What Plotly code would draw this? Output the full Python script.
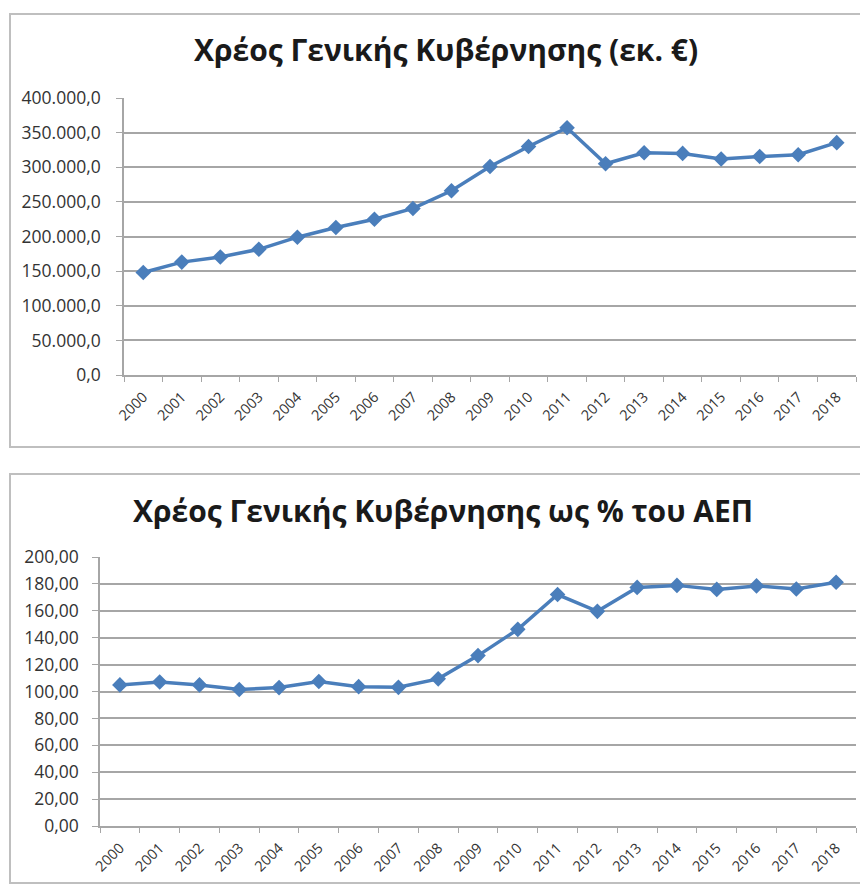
import plotly.graph_objects as go

years = [str(y) for y in range(2000, 2019)]
debt_eur = [148000, 163000, 170500, 181500, 199000, 213000, 225000, 240500, 266000,
            301000, 330000, 357000, 305000, 321000, 320000, 312000, 315500, 318000, 335500]
debt_pct = [104.9, 107.1, 104.9, 101.5, 102.9, 107.4, 103.6, 103.1, 109.4,
            126.7, 146.2, 172.1, 159.6, 177.4, 178.9, 175.9, 178.5, 176.2, 181.2]
title1 = "Χρέος Γενικής Κυβέρνησης (εκ. €)"
title2 = "Χρέος Γενικής Κυβέρνησης ως % του ΑΕΠ"

# the page adds an 8px body margin; size the figure so the page fits the 868x892 window
OX, OY = 8, 8
W, H = 868 - 2 * OX, 892 - 2 * OY
BLUE = "#4a7ebb"
GRID = "#a6a6a6"
FONT = "Open Sans"


def px_x(x):
    return (x - OX) / W


def px_y(y):
    return 1 - (y - OY) / H


fig = go.Figure()
fig.add_trace(go.Scatter(x=years, y=debt_eur, mode="lines+markers", xaxis="x", yaxis="y",
                         line=dict(color=BLUE, width=3.5),
                         marker=dict(symbol="diamond", size=12, color=BLUE)))
fig.add_trace(go.Scatter(x=years, y=debt_pct, mode="lines+markers", xaxis="x2", yaxis="y2",
                         line=dict(color=BLUE, width=3.5),
                         marker=dict(symbol="diamond", size=12, color=BLUE)))

xrange_ = [-0.5, len(years) - 0.5]
xcommon = dict(type="category", range=xrange_, showgrid=False, ticks="outside",
               tickson="boundaries", ticklen=5, tickcolor=GRID, showline=True, linecolor=GRID,
               linewidth=1.5, tickangle=-45, ticklabelstandoff=6, automargin=False,
               tickfont=dict(family=FONT, size=14.5, color="#333333"))
ycommon = dict(showgrid=True, gridcolor=GRID, gridwidth=1.5, showline=True, linecolor=GRID,
               linewidth=1.5, ticks="outside", ticklen=6, tickcolor=GRID, zeroline=False,
               automargin=False,
               tickfont=dict(family=FONT, size=17.5, color="#333333"))

fig.update_layout(
    width=W, height=H, margin=dict(l=0, r=0, t=0, b=0, autoexpand=False),
    paper_bgcolor="white", plot_bgcolor="white", showlegend=False,
    separators=",.",
    xaxis=dict(domain=[px_x(124), px_x(856)], anchor="y", **xcommon),
    yaxis=dict(domain=[px_y(375), px_y(98)], anchor="x", range=[0, 400000], dtick=50000,
               tickformat=",.1f", ticklabelstandoff=12, **ycommon),
    xaxis2=dict(domain=[px_x(100), px_x(856)], anchor="y2", **xcommon),
    yaxis2=dict(domain=[px_y(826), px_y(557)], anchor="x2", range=[0, 200], dtick=20,
                tickformat=",.2f", ticklabelstandoff=10, **ycommon),
    shapes=[
        dict(type="rect", xref="paper", yref="paper", x0=px_x(10), x1=px_x(864),
             y0=px_y(447), y1=px_y(14), line=dict(color="#bfbfbf", width=2)),
        dict(type="rect", xref="paper", yref="paper", x0=px_x(10), x1=px_x(864),
             y0=px_y(883), y1=px_y(474), line=dict(color="#bfbfbf", width=2)),
    ],
    annotations=[
        dict(text="<b>" + title1 + "</b>", xref="paper", yref="paper", x=px_x(446), y=px_y(50),
             showarrow=False, xanchor="center", yanchor="middle",
             font=dict(family=FONT, size=30, color="#1a1a1a")),
        dict(text="<b>" + title2 + "</b>", xref="paper", yref="paper", x=px_x(443), y=px_y(510),
             showarrow=False, xanchor="center", yanchor="middle",
             font=dict(family=FONT, size=30, color="#1a1a1a")),
    ],
)

fig.write_html("out.html")
